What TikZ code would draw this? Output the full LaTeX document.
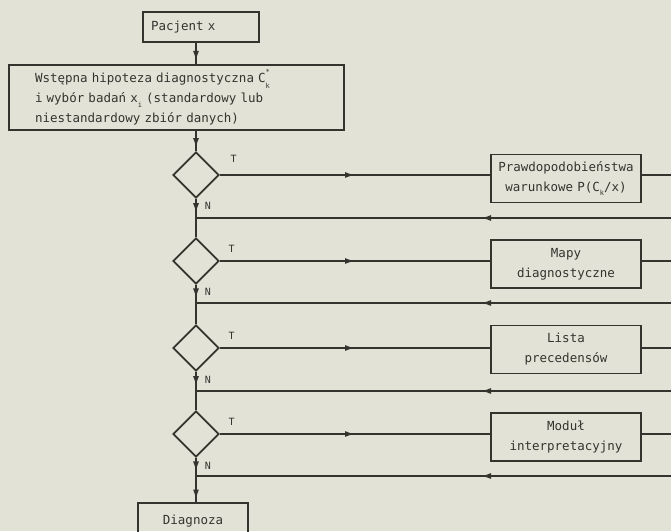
\documentclass[tikz,border=0pt]{standalone}
\usepackage{fontspec}
\setmainfont{DejaVu Sans Mono}
\usetikzlibrary{arrows.meta, shapes.geometric, decorations.markings, positioning}
\definecolor{papier}{HTML}{E3E2D7}
\definecolor{tusz}{HTML}{34342F}
\newcommand{\tekst}{\fontsize{12.5}{20}\selectfont}
\newcommand{\idx}[1]{\raisebox{-.7ex}{\scriptsize #1}}
\newcommand{\Ck}{C\rlap{\raisebox{1.2ex}{\scriptsize *}}\raisebox{-.8ex}{\scriptsize k}}

\begin{document}
\begin{tikzpicture}[x=1pt, y=-1pt, line width=1.7pt, color=tusz,
        >={Latex[length=10pt,width=6pt]},
        blok/.style={draw, rectangle, font=\tekst, inner ysep=2pt},
        modul/.style={blok, minimum width=150pt, minimum height=48pt, text width=142pt, inner xsep=4pt, align=center},
        romb/.style={draw, diamond, minimum width=46pt, minimum height=46pt, inner sep=0pt},
        etyk/.style={font=\fontsize{10}{10}\selectfont, inner sep=0pt},
        grot/.style={postaction={decorate}, decoration={markings, mark=at position #1 with {\arrow{>}}}}]
    \fill[papier] (0,0) rectangle (671,531);
    \useasboundingbox (0,0) rectangle (671,531);
    \coordinate (os) at (196,0);
    \coordinate (prawy) at (671,0);

    % kolumna glowna
    \node[blok, minimum width=116pt, minimum height=30pt, text width=100pt, inner xsep=8pt, align=left] (pacjent) at (201,27) {Pacjent x};
    \node[blok, minimum width=335pt, minimum height=65pt, text width=283pt, inner xsep=26pt, align=left] (hipoteza) at (176.5,97.5)
        {\raisebox{0pt}[12pt][0pt]{}Wstępna hipoteza diagnostyczna \Ck\\ i wybór badań x\idx{i} (standardowy lub\\ niestandardowy zbiór danych)};
    \node[romb] (d1) at (196,175) {};
    \node[romb] (d2) at (196,261) {};
    \node[romb] (d3) at (196,348) {};
    \node[romb] (d4) at (196,434) {};
    \coordinate (j1) at (196,218);
    \coordinate (j2) at (196,303);
    \coordinate (j3) at (196,391);
    \coordinate (j4) at (196,476);
    \node[blok, minimum width=110pt, minimum height=36pt] (diagnoza) at (193,521) {Diagnoza};

    % moduly
    \node[modul] (b1) at (566,178.5) {Prawdopodobieństwa\\ warunkowe P(C\idx{k}/x)};
    \node[modul] (b2) at (566,264) {Mapy\\ diagnostyczne};
    \node[modul] (b3) at (566,349.5) {Lista\\ precedensów};
    \node[modul] (b4) at (566,437) {Moduł\\ interpretacyjny};

    % etykiety
    \node[etyk, above right=12pt and 10pt of d1.east] (t1) {T};
    \node[etyk, above right=8pt and 8pt of d2.east] (t2) {T};
    \node[etyk, above right=8pt and 8pt of d3.east] (t3) {T};
    \node[etyk, above right=8pt and 8pt of d4.east] (t4) {T};
    \node[etyk, below right=3pt and 8pt of d1.south] (n1) {N};
    \node[etyk, below right=3pt and 8pt of d2.south] (n2) {N};
    \node[etyk, below right=3pt and 8pt of d3.south] (n3) {N};
    \node[etyk, below right=3pt and 8pt of d4.south] (n4) {N};

    % polaczenia
    \draw[grot=0.85] (pacjent.south -| os) -- (hipoteza.north -| os);
    \draw[grot=0.85] (hipoteza.south -| os) -- (d1.north);
    \draw[grot=0.75] (d1.south) -- (j1);
    \draw (j1) -- (d2.north);
    \draw[grot=0.75] (d2.south) -- (j2);
    \draw (j2) -- (d3.north);
    \draw[grot=0.75] (d3.south) -- (j3);
    \draw (j3) -- (d4.north);
    \draw[grot=0.75] (d4.south) -- (j4);
    \draw[grot=0.9] (j4) -- (diagnoza.north -| os);

    \draw[grot=0.5] (d1.east) -- (d1.east -| b1.west);
    \draw (d1.east -| b1.east) -- (d1.east -| prawy);
    \draw[grot=0.4] (j1 -| prawy) -- (j1);
    \draw[grot=0.5] (d2.east) -- (d2.east -| b2.west);
    \draw (d2.east -| b2.east) -- (d2.east -| prawy);
    \draw[grot=0.4] (j2 -| prawy) -- (j2);
    \draw[grot=0.5] (d3.east) -- (d3.east -| b3.west);
    \draw (d3.east -| b3.east) -- (d3.east -| prawy);
    \draw[grot=0.4] (j3 -| prawy) -- (j3);
    \draw[grot=0.5] (d4.east) -- (d4.east -| b4.west);
    \draw (d4.east -| b4.east) -- (d4.east -| prawy);
    \draw[grot=0.4] (j4 -| prawy) -- (j4);
\end{tikzpicture}
\end{document}
